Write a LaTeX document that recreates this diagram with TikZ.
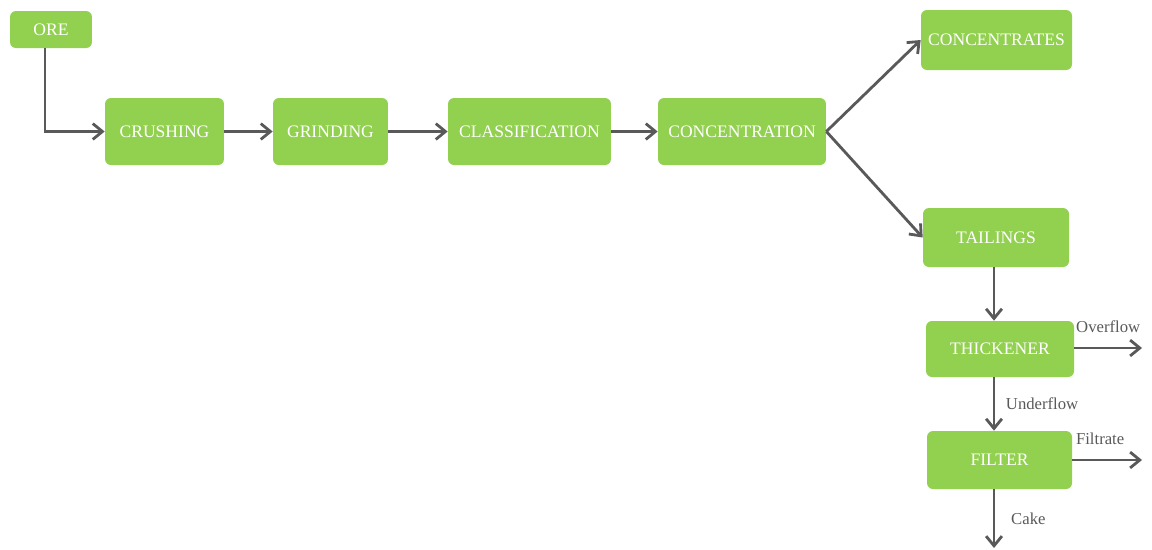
\documentclass[tikz,border=0pt]{standalone}
\usepackage{fontspec}
\setmainfont{Liberation Serif}
\usepackage{xcolor}
\usetikzlibrary{arrows.meta,positioning}
\definecolor{leaf}{HTML}{92D050}
\definecolor{pipe}{HTML}{595959}

\begin{document}
\begin{tikzpicture}[x=0.02cm,y=-0.02cm,>={Straight Barb[length=5.5pt,width=9pt]},
  box/.style={fill=leaf,rounded corners=3.4pt,inner sep=0pt,text=white,font=\fontsize{10}{12}\selectfont},
  arr/.style={->,line width=1.6pt,pipe},
  lbl/.style={text=pipe,font=\fontsize{9.5}{11}\selectfont,inner sep=2pt}]
\useasboundingbox (0,0) rectangle (1152,549);
\node[box,minimum width=1.64cm,minimum height=0.74cm] (ore) at (51,29.5) {ORE};
\node[box,minimum width=2.38cm,minimum height=1.34cm] (crush) at (164.5,131.5) {CRUSHING};
\node[box,minimum width=2.3cm,minimum height=1.34cm] (grind) at (330.5,131.5) {GRINDING};
\node[box,minimum width=3.26cm,minimum height=1.34cm] (classif) at (529.5,131.5) {CLASSIFICATION};
\node[box,minimum width=3.36cm,minimum height=1.34cm] (concn) at (742,131.5) {CONCENTRATION};
\node[box,minimum width=3.02cm,minimum height=1.2cm] (concs) at (996.5,40) {CONCENTRATES};
\node[box,minimum width=2.92cm,minimum height=1.18cm] (tails) at (996,237.5) {TAILINGS};
\node[box,minimum width=2.96cm,minimum height=1.12cm] (thick) at (1000,349) {THICKENER};
\node[box,minimum width=2.9cm,minimum height=1.16cm] (filt) at (999.5,460) {FILTER};
\coordinate (ovf) at (1142,348);
\coordinate (ftr) at (1142,460);
\coordinate (cake) at (994,548);
% main line
\draw[arr] ([xshift=-6*0.02cm]ore.south) |- (crush.west);
\draw[arr] (crush) -- (grind);
\draw[arr] (grind) -- (classif);
\draw[arr] (classif) -- (concn);
\draw[arr] (concn.east) -- (concs.west);
\draw[arr] (concn.east) -- (tails.west);
% tailings treatment
\draw[arr] (cake |- tails.south) -- (cake |- thick.north);
\draw[arr] (thick.east |- ovf) -- node[lbl,above,yshift=6pt]{Overflow} (ovf);
\draw[arr] (cake |- thick.south) -- node[lbl,right,xshift=4pt]{Underflow} (cake |- filt.north);
\draw[arr] (filt.east) -- node[lbl,above,yshift=6pt,xshift=-4pt]{Filtrate} (ftr);
\draw[arr] (cake |- filt.south) -- node[lbl,right,xshift=7pt]{Cake} (cake);
\end{tikzpicture}
\end{document}
